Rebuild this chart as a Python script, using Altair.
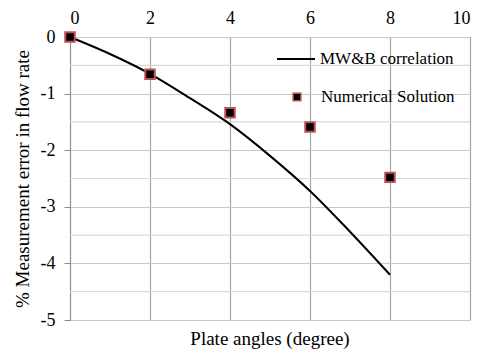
import altair as alt
import pandas as pd

# MW&B correlation curve
line_x = [0, 1, 2, 3, 4, 5, 6, 7, 8]
line_y = [0, -0.30, -0.65, -1.08, -1.54, -2.10, -2.72, -3.44, -4.20]

# Numerical solution points
pt_x = [0, 2, 4, 6, 8]
pt_y = [0, -0.66, -1.34, -1.59, -2.48]

x_ticks = [0, 2, 4, 6, 8, 10]
y_ticks = [-5, -4, -3, -2, -1, 0]
y_minor = [-4.5, -3.5, -2.5, -1.5, -0.5]

FONT = "Liberation Serif, 'Times New Roman', 'DejaVu Serif', serif"
W, H = 400, 283

line_df = pd.DataFrame({"x": line_x, "y": line_y})
pt_df = pd.DataFrame({"x": pt_x, "y": pt_y})
minor_df = pd.DataFrame({"y": y_minor})

xscale = alt.Scale(domain=[0, 10], nice=False, zero=False)
yscale = alt.Scale(domain=[-5, 0], nice=False, zero=False)

xaxis = alt.Axis(orient="top", values=x_ticks, title=None, grid=True,
                 gridColor="#a6a6a6", gridWidth=1.2, domain=False, ticks=False,
                 labelFont=FONT, labelFontSize=18, labelColor="#000", labelPadding=10,
                 labelExpr="'' + datum.value")
yaxis = alt.Axis(values=y_ticks, title="% Measurement error in flow rate", grid=True,
                 gridColor="#c8c8c8", gridWidth=1.2, domain=True, domainColor="#8c8c8c",
                 tickColor="#8c8c8c", tickSize=6, labelExpr="'' + datum.value",
                 labelFont=FONT, labelFontSize=18, labelColor="#000", labelPadding=9,
                 titleFont=FONT, titleFontSize=19, titleFontWeight="normal", titleColor="#000",
                 titleX=-38, titleY=H / 2, titleAngle=-90, titleAlign="center")

minor = alt.Chart(minor_df).mark_rule(color="#d9d9d9", strokeWidth=1.2).encode(
    y=alt.Y("y:Q", scale=yscale, axis=yaxis),
)

line = alt.Chart(line_df).mark_line(color="black", strokeWidth=2, interpolate="monotone").encode(
    x=alt.X("x:Q", scale=xscale, axis=xaxis),
    y=alt.Y("y:Q", scale=yscale, axis=yaxis),
)

pts = alt.Chart(pt_df).mark_square(size=90, fill="black", stroke="#c0504d",
                                   strokeWidth=2, opacity=1, fillOpacity=1).encode(
    x=alt.X("x:Q", scale=xscale, axis=xaxis),
    y=alt.Y("y:Q", scale=yscale, axis=yaxis),
)

# Legend
leg_line = alt.Chart(pd.DataFrame({"a": [0]})).mark_rule(color="black", strokeWidth=2).encode(
    x=alt.value(207), x2=alt.value(245), y=alt.value(22))
leg_line_txt = alt.Chart(pd.DataFrame({"t": ["MW&B correlation"]})).mark_text(
    font=FONT, fontSize=17, align="left", baseline="middle", color="#000").encode(
    x=alt.value(250), y=alt.value(22), text="t:N")
leg_sq = alt.Chart(pd.DataFrame({"a": [0]})).mark_square(
    size=60, fill="black", stroke="#c0504d", strokeWidth=1.5, opacity=1).encode(
    x=alt.value(227), y=alt.value(60))
leg_sq_txt = alt.Chart(pd.DataFrame({"t": ["Numerical Solution"]})).mark_text(
    font=FONT, fontSize=17, align="left", baseline="middle", color="#000").encode(
    x=alt.value(251), y=alt.value(60), text="t:N")

xtitle = alt.Chart(pd.DataFrame({"t": ["Plate angles (degree)"]})).mark_text(
    font=FONT, fontSize=19, align="center", baseline="middle", color="#000").encode(
    x=alt.value(200), y=alt.value(H + 19), text="t:N")

chart = alt.layer(minor, line, pts, leg_line, leg_line_txt, leg_sq, leg_sq_txt, xtitle).properties(
    width=W, height=H,
    autosize=alt.AutoSizeParams(type="none"),
    padding={"left": 62, "top": 29, "right": 3, "bottom": 30},
).configure_view(stroke=None).configure(background="white")

chart.save("out.html", embed_options={"renderer": "svg", "actions": False})
